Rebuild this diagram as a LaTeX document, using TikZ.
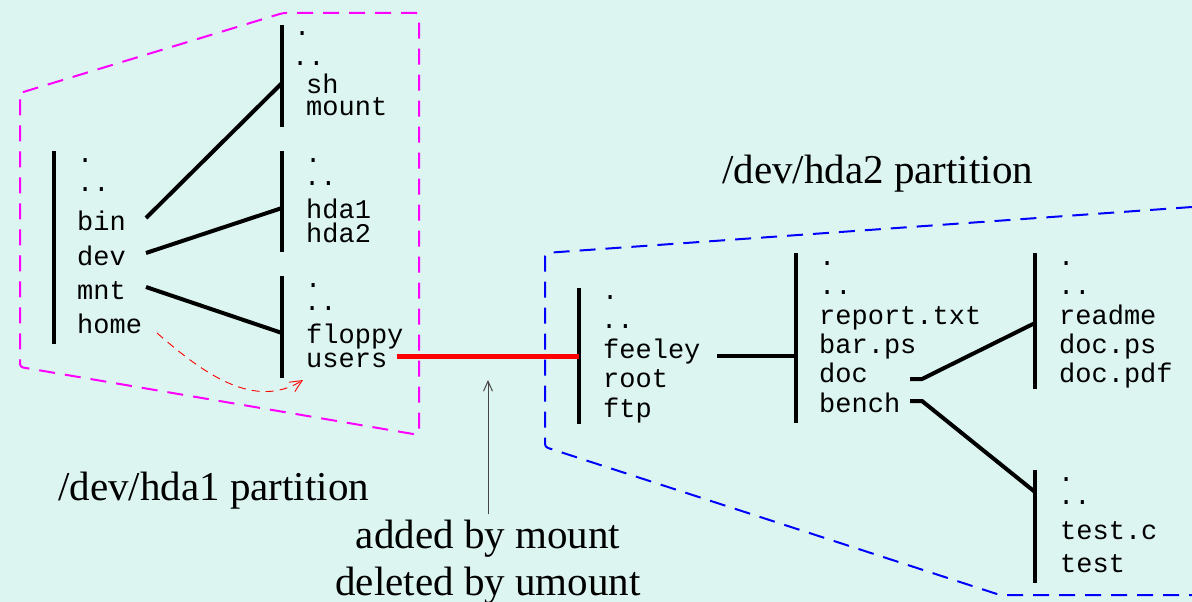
\documentclass[tikz,border=0pt]{standalone}
\usepackage{fontspec}
\setmainfont{Liberation Serif}
\setmonofont{Liberation Mono}
\usetikzlibrary{arrows.meta}
\definecolor{bgCyan}{RGB}{220,245,240}
\definecolor{mountRed}{RGB}{255,0,0}
\definecolor{partMagenta}{RGB}{255,0,255}
\definecolor{partBlue}{RGB}{0,0,255}
\definecolor{pointerGray}{RGB}{70,70,70}

\tikzset{
  entry/.style={anchor=base west, inner sep=0pt, font=\ttfamily\fontsize{27}{30}\selectfont},
  parttext/.style={inner sep=0pt, font=\fontsize{41}{46}\selectfont},
  dirbar/.style={line width=4pt},
  dirlink/.style={line width=4pt},
  partedge/.style={line width=2pt, dash pattern=on 16pt off 10pt},
}

\begin{document}
\begin{tikzpicture}[x=1pt, y=-1pt]
\fill[bgCyan] (0,0) rectangle (1192,602);
\useasboundingbox (0,0) rectangle (1192,602);

% Partition outlines
\draw[partedge, partMagenta, rounded corners=3pt]
    (20,93) -- (283,13) -- (419,13) -- (419,435) -- (20,367) -- cycle;
\draw[partedge, partBlue, rounded corners=3pt]
    (1192,207) -- (545,253) -- (545,447) -- (1000,595) -- (1192,595);

% Root directory of /dev/hda1
\draw[dirbar] (54,151) -- (54,344);
\node[entry] (rdot)  at (77,162) {.};
\node[entry] (rddot) at (77,191) {..};
\node[entry] (bin)   at (77,230) {bin};
\node[entry] (dev)   at (77,265) {dev};
\node[entry] (mnt)   at (77,299) {mnt};
\node[entry] (home)  at (77,333) {home};

% /bin
\draw[dirbar] (282,25) -- (282,127);
\node[entry] (bdot)  at (294,36) {.};
\node[entry] (bddot) at (292,66) {..};
\node[entry] (sh)    at (306,93) {sh};
\node[entry] (mount) at (306,115) {mount};

% /dev
\draw[dirbar] (282,151) -- (282,252);
\node[entry] (ddot)  at (305,162) {.};
\node[entry] (dddot) at (304,185) {..};
\node[entry] (hdaa)  at (306,218) {hda1};
\node[entry] (hdab)  at (306,242) {hda2};

% /mnt
\draw[dirbar] (282,276) -- (282,378);
\node[entry] (mdot)   at (305,287) {.};
\node[entry] (mddot)  at (304,310) {..};
\node[entry] (floppy) at (306,343) {floppy};
\node[entry] (users)  at (306,367) {users};

% Root directory of /dev/hda2
\draw[dirbar] (579,288) -- (579,424);
\node[entry] (udot)   at (602,299) {.};
\node[entry] (uddot)  at (601,328) {..};
\node[entry] (feeley) at (603,358) {feeley};
\node[entry] (root)   at (603,387) {root};
\node[entry] (ftp)    at (603,417) {ftp};

% feeley
\draw[dirbar] (796,253) -- (796,423);
\node[entry] (fdot)   at (819,265) {.};
\node[entry] (fddot)  at (819,294) {..};
\node[entry] (report) at (819,324) {report.txt};
\node[entry] (barps)  at (819,353) {bar.ps};
\node[entry] (doc)    at (819,382) {doc};
\node[entry] (bench)  at (819,412) {bench};

% doc
\draw[dirbar] (1035,253) -- (1035,389);
\node[entry] (cdot)   at (1058,265) {.};
\node[entry] (cddot)  at (1058,294) {..};
\node[entry] (readme) at (1059,324) {readme};
\node[entry] (docps)  at (1059,353) {doc.ps};
\node[entry] (docpdf) at (1059,382) {doc.pdf};

% bench
\draw[dirbar] (1035,470) -- (1035,583);
\node[entry] (tdot)  at (1058,481) {.};
\node[entry] (tddot) at (1058,504) {..};
\node[entry] (testc) at (1060,539) {test.c};
\node[entry] (test)  at (1060,572) {test};

% Link ends
\coordinate (binout)    at (146,218);
\coordinate (binin)     at (282,83);
\coordinate (devout)    at (146,253);
\coordinate (devin)     at (282,208);
\coordinate (mntout)    at (146,287);
\coordinate (mntin)     at (282,333);
\coordinate (usersout)  at (397,356);
\coordinate (hdabin)    at (579,356);
\coordinate (feeleyout) at (717,356);
\coordinate (feeleyin)  at (796,356);
\coordinate (docout)    at (910,379);
\coordinate (docin)     at (1035,323);
\coordinate (benchout)  at (910,401);
\coordinate (benchin)   at (1035,492);
\coordinate (homeout)   at (157,333);
\coordinate (usersin)   at (303,380);
\coordinate (mounttip)  at (488,380);

% Links
\draw[dirlink] (binout) -- (binin);
\draw[dirlink] (devout) -- (devin);
\draw[dirlink] (mntout) -- (mntin);
\draw[dirlink] (feeleyout) -- (feeleyin);
\draw[dirlink] (docout) -- ++(12,0) -- (docin);
\draw[dirlink] (benchout) -- ++(12,0) -- (benchin);
\draw[mountRed, line width=5pt] (usersout) -- (hdabin);
\draw[mountRed, line width=0.9pt, dash pattern=on 8pt off 6pt,
      -{Straight Barb[length=12pt, width=11pt]}]
    (homeout) .. controls (205,375) and (255,410) .. (usersin);

% Labels
\node[parttext, anchor=base west] (hdaatext) at (58,500) {/dev/hda1 partition};
\node[parttext, anchor=base west] (hdabtext) at (722,183) {/dev/hda2 partition};
\node[parttext, anchor=base] (added)   at (488,548) {added by mount};
\node[parttext, anchor=base] (deleted) at (488,595) {deleted by umount};
\draw[pointerGray, line width=1pt, -{Straight Barb[length=10pt, width=9pt]}]
    ([yshift=5pt]added.north) -- (mounttip);

\end{tikzpicture}
\end{document}
